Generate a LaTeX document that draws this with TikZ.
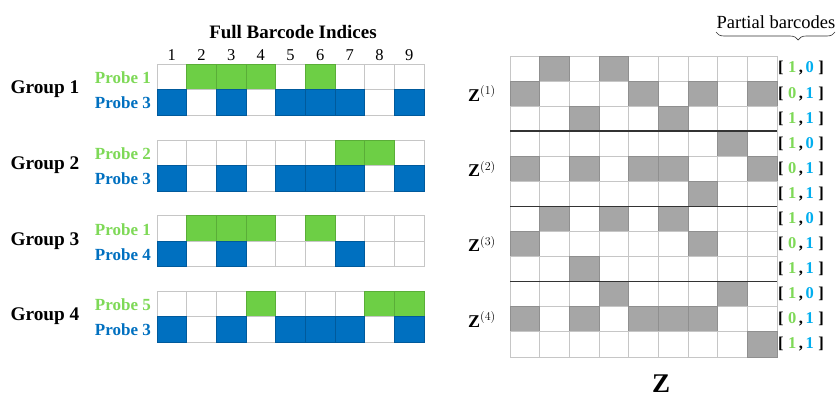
\documentclass[tikz,border=0pt]{standalone}
\usepackage{fontspec}
\setmainfont{Liberation Serif}
\usetikzlibrary{decorations.pathreplacing}
\definecolor{pgreen}{HTML}{6DCF45}
\definecolor{pgreenline}{HTML}{5AAE38}
\definecolor{pblue}{HTML}{0070C0}
\definecolor{pbluel}{HTML}{005A9C}
\definecolor{tgreen}{HTML}{7ED957}
\definecolor{tcyan}{HTML}{00AEEF}
\definecolor{cellgray}{HTML}{A6A6A6}
\definecolor{cellgrayl}{HTML}{8F8F8F}
\definecolor{gridl}{HTML}{C6C6C6}
\tikzset{
  title/.style={font=\fontsize{19}{22}\selectfont\bfseries, inner sep=0pt},
  idx/.style={font=\fontsize{16.5}{19}\selectfont, inner sep=0pt},
  grp/.style={font=\fontsize{19.3}{22}\selectfont\bfseries, inner sep=0pt},
  probeg/.style={font=\fontsize{17}{20}\selectfont\bfseries, text=tgreen, anchor=east, inner sep=0pt},
  probeb/.style={font=\fontsize{17}{20}\selectfont\bfseries, text=pblue, anchor=east, inner sep=0pt},
  zlab/.style={font=\fontsize{18}{21}\selectfont, inner sep=0pt},
  brk/.style={font=\fontsize{16.5}{19}\selectfont\bfseries, anchor=west, inner sep=0pt},
  emptycell/.style={draw=gridl, fill=white, line width=0.9pt},
}
\newcommand\brkt[2]{{[}\hspace{4.5pt}\textcolor{tgreen}{#1}\hspace{2.5pt},\hspace{2.5pt}\textcolor{tcyan}{#2}\hspace{4.5pt}{]}}
% left barcode row: #1 top y, #2 pattern, #3 fill colour, #4 line colour
\newcommand\barrow[4]{%
  \foreach \v [count=\i] in {#2}{
    \draw[emptycell] ({157+29.67*(\i-1)},#1) rectangle ({157+29.67*\i},{#1+25.5});
  }
  \foreach \v [count=\i] in {#2}{
    \ifnum\v=1
      \filldraw[fill=#3, draw=#4, line width=0.9pt] ({157+29.67*(\i-1)},#1) rectangle ({157+29.67*\i},{#1+25.5});
    \fi
  }
}
% right Z row: #1 row index (0..11), #2 pattern
\newcommand\zrow[2]{%
  \foreach \v [count=\i] in {#2}{
    \draw[emptycell] ({510+29.67*(\i-1)},{56+25.08*#1}) rectangle ({510+29.67*\i},{56+25.08*(#1+1)});
  }
  \foreach \v [count=\i] in {#2}{
    \ifnum\v=1
      \filldraw[fill=cellgray, draw=cellgrayl, line width=0.9pt] ({510+29.67*(\i-1)},{56+25.08*#1}) rectangle ({510+29.67*\i},{56+25.08*(#1+1)});
    \fi
  }
}
\begin{document}
\begin{tikzpicture}[x=1pt,y=-1pt]
\useasboundingbox[fill=white] (0,0) rectangle (839,397);

% ---------- left: full barcodes ----------
\node[title] (title) at (293,32) {Full Barcode Indices};
\foreach \i in {1,...,9}{
  \node[idx] (n\i) at ({157+29.67*(\i-0.5)},55) {\i};
}
% Group 1
\barrow{64}{0,1,1,1,0,1,0,0,0}{pgreen}{pgreenline}
\barrow{89.5}{1,0,1,0,1,1,1,0,1}{pblue}{pbluel}
% Group 2
\barrow{140}{0,0,0,0,0,0,1,1,0}{pgreen}{pgreenline}
\barrow{165.5}{1,0,1,0,1,1,1,0,1}{pblue}{pbluel}
% Group 3
\barrow{215.5}{0,1,1,1,0,1,0,0,0}{pgreen}{pgreenline}
\barrow{241}{1,0,1,0,0,0,1,0,0}{pblue}{pbluel}
% Group 4
\barrow{291}{0,0,0,1,0,0,0,1,1}{pgreen}{pgreenline}
\barrow{316.5}{1,0,1,0,1,1,1,0,1}{pblue}{pbluel}

\node[grp] (g1) at (45,89.5) {Group 1};
\node[grp] (g2) at (45,165.5) {Group 2};
\node[grp] (g3) at (45,241) {Group 3};
\node[grp] (g4) at (45,316.5) {Group 4};

\node[probeg] (p11) at (151,78) {Probe 1};
\node[probeb] (p13) at (151,103) {Probe 3};
\node[probeg] (p22) at (151,154) {Probe 2};
\node[probeb] (p23) at (151,179) {Probe 3};
\node[probeg] (p31) at (151,229.5) {Probe 1};
\node[probeb] (p34) at (151,254.5) {Probe 4};
\node[probeg] (p45) at (151,305) {Probe 5};
\node[probeb] (p43) at (151,330) {Probe 3};

% ---------- right: Z ----------
\zrow{0}{0,1,0,1,0,0,0,0,0}
\zrow{1}{1,0,0,0,1,0,1,0,1}
\zrow{2}{0,0,1,0,0,1,0,0,0}
\zrow{3}{0,0,0,0,0,0,0,1,0}
\zrow{4}{1,0,1,0,1,1,0,0,1}
\zrow{5}{0,0,0,0,0,0,1,0,0}
\zrow{6}{0,1,0,1,0,1,0,0,0}
\zrow{7}{1,0,0,0,0,0,1,0,0}
\zrow{8}{0,0,1,0,0,0,0,0,0}
\zrow{9}{0,0,0,1,0,0,0,1,0}
\zrow{10}{1,0,1,0,1,1,1,0,0}
\zrow{11}{0,0,0,0,0,0,0,0,1}

\coordinate (s1a) at (510,131.24);
\coordinate (s1b) at (777,131.24);
\coordinate (s2a) at (510,206.48);
\coordinate (s2b) at (777,206.48);
\coordinate (s3a) at (510,281.72);
\coordinate (s3b) at (777,281.72);
\draw[line width=1.5pt, draw=black!80] (s1a) -- (s1b);
\draw[line width=1.5pt, draw=black!80] (s2a) -- (s2b);
\draw[line width=1.5pt, draw=black!80] (s3a) -- (s3b);

\node[zlab] (z1) at (482,93.6) {$\mathbf{Z}^{(1)}$};
\node[zlab] (z2) at (482,168.9) {$\mathbf{Z}^{(2)}$};
\node[zlab] (z3) at (482,244.1) {$\mathbf{Z}^{(3)}$};
\node[zlab] (z4) at (482,319.4) {$\mathbf{Z}^{(4)}$};

\foreach \r/\a/\b in {0/1/0,1/0/1,2/1/1,3/1/0,4/0/1,5/1/1,6/1/0,7/0/1,8/1/1,9/1/0,10/0/1,11/1/1}{
  \node[brk] (b\r) at (778,{56+25.08*(\r+0.5)}) {\brkt{\a}{\b}};
}

\node[font=\fontsize{18.5}{22}\selectfont, inner sep=0pt] (pb) at (776,22) {Partial barcodes};
\coordinate (bl) at (716,32);
\coordinate (br) at (835,32);
\draw[line width=0.6pt, draw=black!80, decoration={brace,mirror,amplitude=8pt,aspect=0.69}, decorate] (bl) -- (br);

\node[font=\fontsize{27}{30}\selectfont, inner sep=0pt] (zbig) at (661,383.5) {$\mathbf{Z}$};
\end{tikzpicture}
\end{document}
